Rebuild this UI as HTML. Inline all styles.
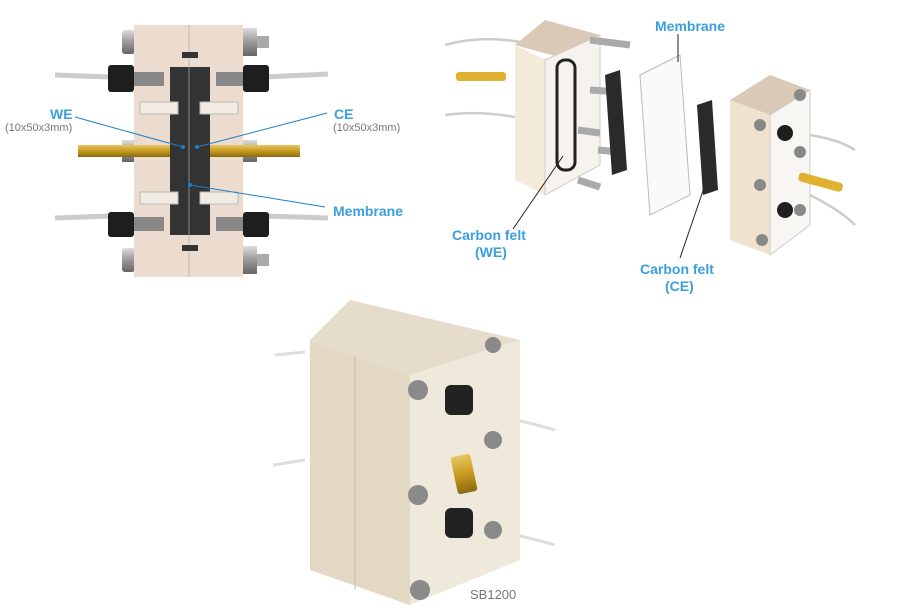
<!DOCTYPE html>
<html><head><meta charset="utf-8"><style>
html,body{margin:0;padding:0;background:#fff;width:901px;height:610px;overflow:hidden}
svg{display:block}
.l{font-family:"Liberation Sans",sans-serif;font-weight:bold;fill:#3a9fdc;font-size:14px}
.s{font-family:"Liberation Sans",sans-serif;fill:#777;font-size:11px}
</style></head><body>
<svg width="901" height="610" viewBox="0 0 901 610" xmlns="http://www.w3.org/2000/svg">
<defs>
<linearGradient id="gold" x1="0" y1="0" x2="0" y2="1"><stop offset="0" stop-color="#e8c860"/><stop offset="0.5" stop-color="#c89a20"/><stop offset="1" stop-color="#8a6a10"/></linearGradient>
<linearGradient id="bolt" x1="0" y1="0" x2="0" y2="1"><stop offset="0" stop-color="#ddd"/><stop offset="0.5" stop-color="#999"/><stop offset="1" stop-color="#666"/></linearGradient>
</defs>
<!-- top-left cross section -->
<g>
<path d="M55 75 L110 77 M55 218 L110 216 M265 77 L328 74 M265 216 L328 218" stroke="#ccc" stroke-width="5"/>
<rect x="122" y="30" width="13" height="24" rx="3" fill="url(#bolt)"/>
<rect x="122" y="248" width="13" height="24" rx="3" fill="url(#bolt)"/>
<rect x="243" y="28" width="14" height="28" fill="url(#bolt)"/><rect x="257" y="36" width="12" height="12" fill="#aaa"/>
<rect x="243" y="246" width="14" height="28" fill="url(#bolt)"/><rect x="257" y="254" width="12" height="12" fill="#aaa"/>
<rect x="122" y="140" width="13" height="22" fill="url(#bolt)"/><rect x="243" y="140" width="14" height="22" fill="url(#bolt)"/>
<rect x="134" y="25" width="109" height="252" fill="#ebdccf"/>
<line x1="189" y1="25" x2="189" y2="277" stroke="#c9b8a8"/>
<rect x="182" y="52" width="16" height="6" fill="#333"/><rect x="182" y="245" width="16" height="6" fill="#333"/>
<rect x="170" y="67" width="40" height="168" fill="#333"/>
<line x1="189" y1="67" x2="189" y2="235" stroke="#888"/>
<rect x="108" y="65" width="26" height="27" rx="3" fill="#1e1e1e"/><rect x="243" y="65" width="26" height="27" rx="3" fill="#1e1e1e"/>
<rect x="108" y="212" width="26" height="25" rx="3" fill="#1e1e1e"/><rect x="243" y="212" width="26" height="25" rx="3" fill="#1e1e1e"/>
<rect x="134" y="72" width="30" height="14" fill="#888"/><rect x="216" y="72" width="27" height="14" fill="#888"/>
<rect x="134" y="217" width="30" height="14" fill="#888"/><rect x="216" y="217" width="27" height="14" fill="#888"/>
<rect x="140" y="102" width="38" height="12" fill="#f2ebe3" stroke="#bbb"/><rect x="200" y="102" width="38" height="12" fill="#f2ebe3" stroke="#bbb"/>
<rect x="140" y="192" width="38" height="12" fill="#f2ebe3" stroke="#bbb"/><rect x="200" y="192" width="38" height="12" fill="#f2ebe3" stroke="#bbb"/>
<rect x="78" y="145" width="92" height="12" fill="url(#gold)"/><rect x="210" y="145" width="90" height="12" fill="url(#gold)"/>
<path d="M75 117 L183 147 M327 113 L197 147 M325 207 L190 185" stroke="#1f7fc8" stroke-width="1"/>
<circle cx="183" cy="147" r="2" fill="#1f7fc8"/><circle cx="197" cy="147" r="2" fill="#1f7fc8"/><circle cx="190" cy="185" r="2" fill="#1f7fc8"/>
<text x="50" y="119" class="l">WE</text><text x="5" y="131" class="s">(10x50x3mm)</text>
<text x="334" y="119" class="l">CE</text><text x="333" y="131" class="s">(10x50x3mm)</text>
<text x="333" y="216" class="l">Membrane</text>
</g>
<!-- top-right exploded -->
<g>
<path d="M445 45 Q480 35 520 42 M445 115 Q480 110 520 118 M810 135 Q840 140 855 150 M810 195 Q840 210 855 225" stroke="#ccc" stroke-width="2.5" fill="none"/>
<rect x="456" y="72" width="50" height="9" rx="3" fill="#e0b030"/>
<path d="M515 45 L545 20 L600 35 L570 60 Z" fill="#d9c9b6"/>
<path d="M515 45 L545 60 L545 195 L515 180 Z" fill="#f3ead9"/>
<path d="M545 60 L600 35 L600 165 L545 195 Z" fill="#f6f3ee" stroke="#ccc"/>
<rect x="557" y="60" width="18" height="110" rx="8" fill="none" stroke="#222" stroke-width="3"/>
<g stroke="#aaa" stroke-width="7"><line x1="590" y1="40" x2="630" y2="45"/><line x1="590" y1="90" x2="620" y2="92"/><line x1="578" y1="130" x2="600" y2="133"/><line x1="578" y1="180" x2="600" y2="187"/><line x1="598" y1="150" x2="620" y2="152"/></g>
<path d="M605 75 L620 70 L627 170 L612 175 Z" fill="#2a2a2a"/>
<path d="M640 75 L680 55 L690 195 L650 215 Z" fill="#fafafa" stroke="#bbb"/>
<path d="M697 105 L712 100 L718 190 L703 195 Z" fill="#2a2a2a"/>
<path d="M730 100 L770 75 L810 90 L770 115 Z" fill="#d9c9b6"/>
<path d="M730 100 L770 115 L770 255 L730 240 Z" fill="#efe3cf"/>
<path d="M770 115 L810 90 L810 225 L770 255 Z" fill="#f8f6f2" stroke="#ccc"/>
<g fill="#888"><circle cx="760" cy="125" r="6"/><circle cx="760" cy="185" r="6"/><circle cx="762" cy="240" r="6"/><circle cx="800" cy="95" r="6"/><circle cx="800" cy="152" r="6"/><circle cx="800" cy="210" r="6"/></g>
<circle cx="785" cy="133" r="8" fill="#1e1e1e"/><circle cx="785" cy="210" r="8" fill="#1e1e1e"/>
<rect x="800" y="172" width="45" height="9" rx="3" fill="#e0b030" transform="rotate(15 800 172)"/>
<path d="M678 34 L678 62 M563 156 L513 229 M705 185 L680 258" stroke="#222" stroke-width="1"/>
<text x="655" y="31" class="l">Membrane</text>
<text x="452" y="240" class="l">Carbon felt</text><text x="475" y="257" class="l">(WE)</text>
<text x="640" y="274" class="l">Carbon felt</text><text x="665" y="291" class="l">(CE)</text>
</g>
<!-- bottom photo -->
<g>
<path d="M275 355 L305 352 M273 465 L305 460 M470 410 Q520 420 555 430 M470 525 Q520 535 555 545" stroke="#ddd" stroke-width="3" fill="none"/>
<path d="M310 340 L350 300 L520 340 L410 375 Z" fill="#e6dccb"/>
<path d="M310 340 L410 375 L410 605 L310 570 Z" fill="#e3d8c3"/>
<line x1="355" y1="355" x2="355" y2="590" stroke="#c8bca6"/>
<path d="M410 375 L520 340 L520 560 L410 605 Z" fill="#efe9dc"/>
<g fill="#8a8a8a"><circle cx="418" cy="390" r="10"/><circle cx="418" cy="495" r="10"/><circle cx="420" cy="590" r="10"/><circle cx="493" cy="345" r="8"/><circle cx="493" cy="440" r="9"/><circle cx="493" cy="530" r="9"/></g>
<rect x="445" y="385" width="28" height="30" rx="6" fill="#222"/>
<rect x="445" y="508" width="28" height="30" rx="6" fill="#222"/>
<rect x="454" y="455" width="20" height="38" rx="3" fill="url(#gold)" transform="rotate(-12 464 474)"/>
<text x="470" y="599" font-family="Liberation Sans, sans-serif" font-size="13" fill="#777">SB1200</text>
</g>
</svg>
</body></html>
